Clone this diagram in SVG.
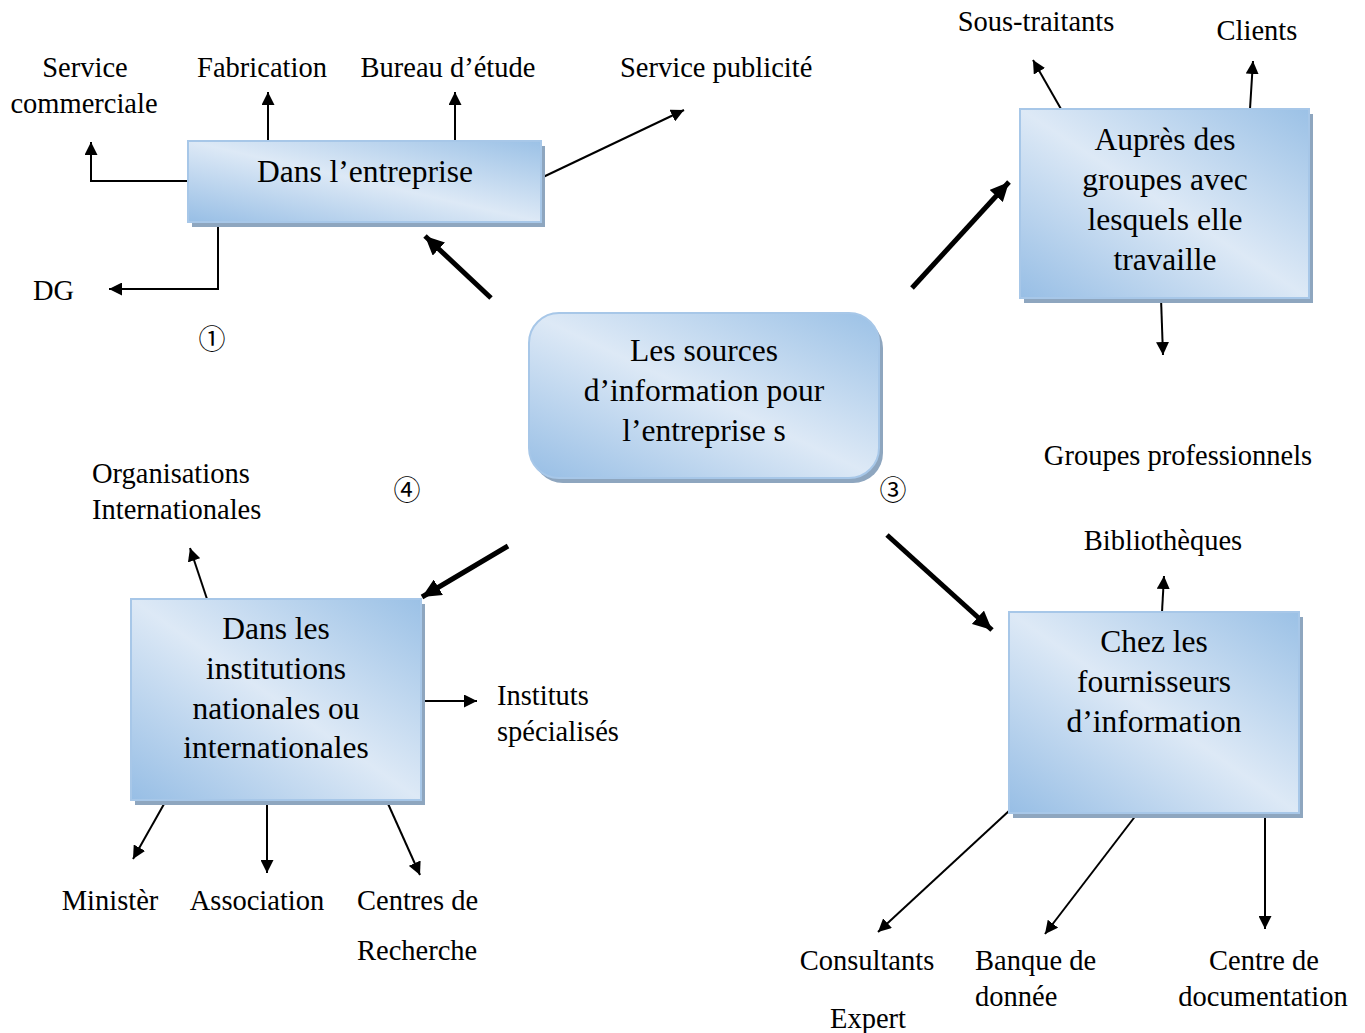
<svg xmlns="http://www.w3.org/2000/svg" width="1365" height="1033" viewBox="0 0 1365 1033">
  <defs>
    <linearGradient id="boxFill" x1="0" y1="1" x2="1" y2="0">
      <stop offset="0" stop-color="#97bee5"/>
      <stop offset="0.5" stop-color="#dde9f6"/>
      <stop offset="1" stop-color="#9bc1e6"/>
    </linearGradient>
    <marker id="headThin" markerUnits="userSpaceOnUse" markerWidth="14" markerHeight="13" refX="13" refY="6.5" orient="auto">
      <path d="M0,0 L13,6.5 L0,13 z" fill="#000"/>
    </marker>
    <marker id="headThick" markerUnits="userSpaceOnUse" markerWidth="20" markerHeight="18" refX="19" refY="9" orient="auto">
      <path d="M0,0 L19,9 L0,18 z" fill="#000"/>
    </marker>
    <style>
      .box { fill: url(#boxFill); stroke: #a7c7e8; stroke-width: 2; }
      .shadow { fill: #8ea6bf; }
      .t { font-family: "Liberation Serif", "Times New Roman", serif; fill: #000; }
      .node { font-size: 31.5px; text-anchor: middle; }
      .lbl { font-size: 28.5px; }
      .mid { text-anchor: middle; }
      .num { font-family: "Noto Sans CJK JP", "DejaVu Sans", sans-serif; font-size: 27px; text-anchor: middle; }
      .thin { stroke: #000; stroke-width: 2; fill: none; marker-end: url(#headThin); }
      .thick { stroke: #000; stroke-width: 5; fill: none; marker-end: url(#headThick); }
    </style>
  </defs>

  <rect width="1365" height="1033" fill="#fff"/>

  <!-- Connectors -->
  <g id="connectors">
    <!-- central node to the four source groups -->
    <line class="thick" x1="491" y1="298" x2="425" y2="236"/>
    <line class="thick" x1="912" y1="288" x2="1009" y2="182"/>
    <line class="thick" x1="887" y1="535" x2="992" y2="630"/>
    <line class="thick" x1="508" y1="546" x2="422" y2="597"/>

    <!-- Dans l'entreprise -->
    <line class="thin" x1="268" y1="141" x2="268" y2="92"/>
    <line class="thin" x1="455" y1="141" x2="455" y2="92"/>
    <polyline class="thin" points="188,181 91,181 91,142"/>
    <polyline class="thin" points="218,222 218,289 109,289"/>
    <line class="thin" x1="541" y1="178" x2="684" y2="110"/>

    <!-- Auprès des groupes -->
    <line class="thin" x1="1061" y1="109" x2="1033" y2="60"/>
    <line class="thin" x1="1250" y1="109" x2="1253" y2="61"/>
    <line class="thin" x1="1161" y1="298" x2="1163" y2="355"/>

    <!-- Chez les fournisseurs -->
    <line class="thin" x1="1162" y1="612" x2="1164" y2="576"/>
    <line class="thin" x1="1010" y1="810" x2="878" y2="932"/>
    <line class="thin" x1="1140" y1="810" x2="1045" y2="934"/>
    <line class="thin" x1="1265" y1="810" x2="1265" y2="929"/>

    <!-- Dans les institutions -->
    <line class="thin" x1="207" y1="599" x2="190" y2="548"/>
    <line class="thin" x1="421" y1="701" x2="477" y2="701"/>
    <line class="thin" x1="168" y1="797" x2="133" y2="859"/>
    <line class="thin" x1="267" y1="800" x2="267" y2="873"/>
    <line class="thin" x1="385" y1="797" x2="420" y2="875"/>
  </g>

  <!-- Central node -->
  <g id="node-sources">
    <rect class="shadow" x="533" y="318" width="350" height="165" rx="30"/>
    <rect class="box" x="529" y="313" width="350" height="165" rx="30"/>
    <text class="t node" x="704" y="361">Les sources</text>
    <text class="t node" x="704" y="401">d’information pour</text>
    <text class="t node" x="704" y="441">l’entreprise s</text>
  </g>

  <!-- Dans l'entreprise -->
  <g id="node-entreprise">
    <rect class="shadow" x="192" y="146" width="353" height="81"/>
    <rect class="box" x="188" y="141" width="353" height="81"/>
    <text class="t node" x="365" y="182">Dans l’entreprise</text>
  </g>

  <!-- Auprès des groupes -->
  <g id="node-groupes">
    <rect class="shadow" x="1024" y="114" width="289" height="189"/>
    <rect class="box" x="1020" y="109" width="289" height="189"/>
    <text class="t node" x="1165" y="150">Auprès des</text>
    <text class="t node" x="1165" y="190">groupes avec</text>
    <text class="t node" x="1165" y="230">lesquels elle</text>
    <text class="t node" x="1165" y="270">travaille</text>
  </g>

  <!-- Chez les fournisseurs -->
  <g id="node-fournisseurs">
    <rect class="shadow" x="1013" y="617" width="290" height="201"/>
    <rect class="box" x="1009" y="612" width="290" height="201"/>
    <text class="t node" x="1154" y="652">Chez les</text>
    <text class="t node" x="1154" y="692">fournisseurs</text>
    <text class="t node" x="1154" y="732">d’information</text>
  </g>

  <!-- Dans les institutions -->
  <g id="node-institutions">
    <rect class="shadow" x="135" y="604" width="290" height="201"/>
    <rect class="box" x="131" y="599" width="290" height="201"/>
    <text class="t node" x="276" y="639">Dans les</text>
    <text class="t node" x="276" y="679">institutions</text>
    <text class="t node" x="276" y="719">nationales ou</text>
    <text class="t node" x="276" y="758">internationales</text>
  </g>

  <!-- Labels -->
  <g id="labels">
    <text class="t lbl mid" x="85" y="77">Service</text>
    <text class="t lbl mid" x="84" y="113">commerciale</text>
    <text class="t lbl mid" x="262" y="77">Fabrication</text>
    <text class="t lbl mid" x="448" y="77">Bureau d’étude</text>
    <text class="t lbl" x="620" y="77">Service publicité</text>
    <text class="t lbl" x="33" y="300">DG</text>

    <text class="t lbl mid" x="1036" y="31">Sous-traitants</text>
    <text class="t lbl mid" x="1257" y="40">Clients</text>
    <text class="t lbl mid" x="1178" y="465">Groupes professionnels</text>

    <text class="t lbl mid" x="1163" y="550">Bibliothèques</text>
    <text class="t lbl mid" x="867" y="970">Consultants</text>
    <text class="t lbl mid" x="868" y="1028">Expert</text>
    <text class="t lbl" x="975" y="970">Banque de</text>
    <text class="t lbl" x="975" y="1006">donnée</text>
    <text class="t lbl mid" x="1264" y="970">Centre de</text>
    <text class="t lbl mid" x="1263" y="1006">documentation</text>

    <text class="t lbl" x="92" y="483">Organisations</text>
    <text class="t lbl" x="92" y="519">Internationales</text>
    <text class="t lbl" x="497" y="705">Instituts</text>
    <text class="t lbl" x="497" y="741">spécialisés</text>
    <text class="t lbl mid" x="110" y="910">Ministèr</text>
    <text class="t lbl mid" x="257" y="910">Association</text>
    <text class="t lbl" x="357" y="910">Centres de</text>
    <text class="t lbl" x="357" y="960">Recherche</text>

    <text class="num" x="212" y="349">①</text>
    <text class="num" x="893" y="500">③</text>
    <text class="num" x="407" y="500">④</text>
  </g>
</svg>
